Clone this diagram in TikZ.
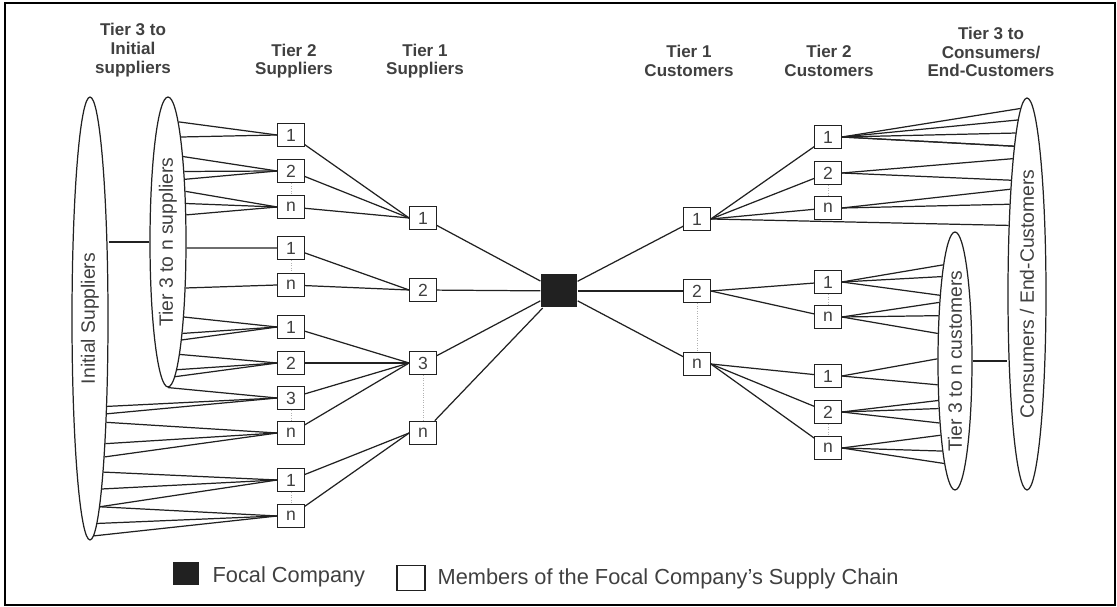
\documentclass[tikz,border=0pt]{standalone}
\usepackage{fontspec}
\setmainfont{Liberation Sans}
\usetikzlibrary{shapes.geometric}
\definecolor{ink}{gray}{0.13}
\definecolor{lbl}{gray}{0.25}

\begin{document}
\begin{tikzpicture}[x=0.02cm,y=-0.02cm,line width=0.7pt,color=ink]
\useasboundingbox (0,0) rectangle (1117,607);
\draw[line width=1.2pt,black] (5,3) rectangle (1115,605);

% column headings
\begin{scope}[every node/.style={align=center,text=lbl,font=\fontsize{9.7}{10.6}\selectfont\bfseries}]
    \node (h1) at (133,50) {Tier 3 to\\Initial\\suppliers};
    \node (h2) at (294,61) {Tier 2\\Suppliers};
    \node (h3) at (425,61) {Tier 1\\Suppliers};
    \node (h4) at (689,61) {Tier 1\\Customers};
    \node (h5) at (829,61) {Tier 2\\Customers};
    \node (h6) at (991,52) {Tier 3 to\\Consumers/\\End-Customers};
\end{scope}

\begin{scope}[every node/.style={ellipse,draw,inner sep=0pt}]
    \node[minimum width=0.72cm,minimum height=8.86cm] (IS) at (90,318.5) {};
    \node[minimum width=0.72cm,minimum height=5.8cm] (TS) at (168,242) {};
    \node[minimum width=0.68cm,minimum height=5.16cm] (TC) at (955,361) {};
    \node[minimum width=0.76cm,minimum height=7.84cm] (CE) at (1027,294) {};
\end{scope}
\begin{scope}[every node/.style={rotate=90,text=lbl,font=\fontsize{11}{13}\selectfont}]
    \node (ISt) at (IS) {Initial Suppliers};
    \node (TSt) at (TS) {Tier 3 to n suppliers};
    \node (TCt) at (TC) {Tier 3 to n customers};
    \node (CEt) at (CE) {Consumers / End-Customers};
\end{scope}

\begin{scope}[every node/.style={rectangle,draw,fill=white,minimum width=0.53cm,minimum height=0.47cm,inner sep=0pt,text=lbl,font=\fontsize{10}{12}\selectfont}]
    \node (A1) at (291,135) {1};
    \node (A2) at (291,171) {2};
    \node (An) at (291,207) {n};
    \node (B1) at (291,248) {1};
    \node (Bn) at (291,285) {n};
    \node (C1) at (291,327) {1};
    \node (C2) at (291,363) {2};
    \node (C3) at (291,398) {3};
    \node (Cn) at (291,433) {n};
    \node (D1) at (291,480) {1};
    \node (Dn) at (291,516) {n};

    \node (P1) at (423,218) {1};
    \node (P2) at (423,290) {2};
    \node (P3) at (423,363) {3};
    \node (Pn) at (423,433) {n};

    \node (Q1) at (697,219) {1};
    \node (Q2) at (697,291) {2};
    \node (Qn) at (697,364) {n};

    \node (E1) at (828,137) {1};
    \node (E2) at (828,173) {2};
    \node (En) at (828,208) {n};
    \node (G1) at (828,282) {1};
    \node (Gn) at (828,317) {n};
    \node (H1) at (828,376) {1};
    \node (H2) at (828,412) {2};
    \node (Hn) at (828,448) {n};
\end{scope}
\node[fill=ink,minimum width=0.72cm,minimum height=0.66cm,inner sep=0pt] (X) at (559,291) {};

% legend
\node[fill=ink,minimum width=0.54cm,minimum height=0.46cm,inner sep=0pt] (kf) at (186,574) {};
\node[draw,fill=white,minimum width=0.56cm,minimum height=0.5cm,inner sep=0pt] (km) at (411,578) {};
\begin{scope}[every node/.style={anchor=west,inner sep=0pt,text=lbl,font=\fontsize{12.4}{14}\selectfont}]
    \node (kft) at (212,577) {Focal Company};
    \node (kmt) at (437,579) {Members of the Focal Company's Supply Chain};
\end{scope}

\begin{scope}
    \path [-] (TS.west) edge (TS.west -| IS.east);
    \path [-] (TC.east) edge (TC.east -| CE.west);

    \path [-] (A1.west) edge (TS.85.2) edge (TS.83);
    \path [-] (A2.west) edge (TS.80.3) edge (TS.77.8) edge (TS.75.8);
    \path [-] (An.west) edge (TS.71) edge (TS.65.4) edge (TS.56.8);
    \path [-] (B1.west) edge (TS.342);
    \path [-] (Bn.west) edge (TS.291.8);
    \path [-] (C1.west) edge (TS.282.2) edge (TS.279.7) edge (TS.278.3);
    \path [-] (C2.west) edge (TS.276.1) edge (TS.274.7) edge (TS.273.4);
    \path [-] (C3.west) edge (TS.south) edge (IS.281.9) edge (IS.280.6);
    \path [-] (Cn.west) edge (IS.279.1) edge (IS.277.8) edge (IS.276.9);
    \path [-] (D1.west) edge (IS.275.3) edge (IS.274.5) edge (IS.273.7);
    \path [-] (Dn.west) edge (IS.273.1) edge (IS.272.3) edge (IS.271.6);

    \path [-] (A1) edge (P1.west);
    \path [-] (A2) edge (P1.west);
    \path [-] (An) edge (P1.west);
    \path [-] (B1) edge (P2.west);
    \path [-] (Bn) edge (P2.west);
    \path [-] (C1) edge (P3.west);
    \path [-] (C2) edge (P3.west);
    \path [-] (C3) edge (P3.west);
    \path [-] (Cn) edge (P3.west);
    \path [-] (D1) edge (Pn.west);
    \path [-] (Dn) edge (Pn.west);

    \path [-] (P1) edge (X);
    \path [-] (P2) edge (X);
    \path [-] (P3) edge (X);
    \path [-] (Pn) edge (X);
    \path [-] (X) edge (Q1);
    \path [-] (X) edge (Q2);
    \path [-] (X) edge (Qn);

    \path [-] (Q1.east) edge (E1);
    \path [-] (Q1.east) edge (E2);
    \path [-] (Q1.east) edge (En);
    \path [-] (Q1.east) edge (CE.105.7);
    \path [-] (Q2.east) edge (G1);
    \path [-] (Q2.east) edge (Gn);
    \path [-] (Qn.east) edge (H1);
    \path [-] (Qn.east) edge (H2);
    \path [-] (Qn.east) edge (Hn);

    \path [-] (E1.east) edge (CE.92.7) edge (CE.93.5) edge (CE.94.2) edge (CE.95) edge (CE.95.8);
    \path [-] (E2.east) edge (CE.96.7) edge (CE.98.1);
    \path [-] (En.east) edge (CE.99) edge (CE.101.2);
    \path [-] (G1.east) edge (TC.97.4) edge (TC.99.8) edge (TC.103);
    \path [-] (Gn.east) edge (TC.105.6) edge (TC.110.4) edge (TC.122.6);
    \path [-] (H1.east) edge (TC.173.3) edge (TC.234);
    \path [-] (H2.east) edge (TC.247.4) edge (TC.251.1) edge (TC.256.5);
    \path [-] (Hn.east) edge (TC.259.8) edge (TC.262) edge (TC.264.2);

    \path [color=gray!60,densely dotted,line width=0.4pt][-] (A2) edge (An);
    \path [color=gray!60,densely dotted,line width=0.4pt][-] (B1) edge (Bn);
    \path [color=gray!60,densely dotted,line width=0.4pt][-] (C3) edge (Cn);
    \path [color=gray!60,densely dotted,line width=0.4pt][-] (D1) edge (Dn);
    \path [color=gray!60,densely dotted,line width=0.4pt][-] (P3) edge (Pn);
    \path [color=gray!60,densely dotted,line width=0.4pt][-] (Q2) edge (Qn);
    \path [color=gray!60,densely dotted,line width=0.4pt][-] (E2) edge (En);
    \path [color=gray!60,densely dotted,line width=0.4pt][-] (G1) edge (Gn);
    \path [color=gray!60,densely dotted,line width=0.4pt][-] (H2) edge (Hn);
\end{scope}
\end{tikzpicture}
\end{document}
